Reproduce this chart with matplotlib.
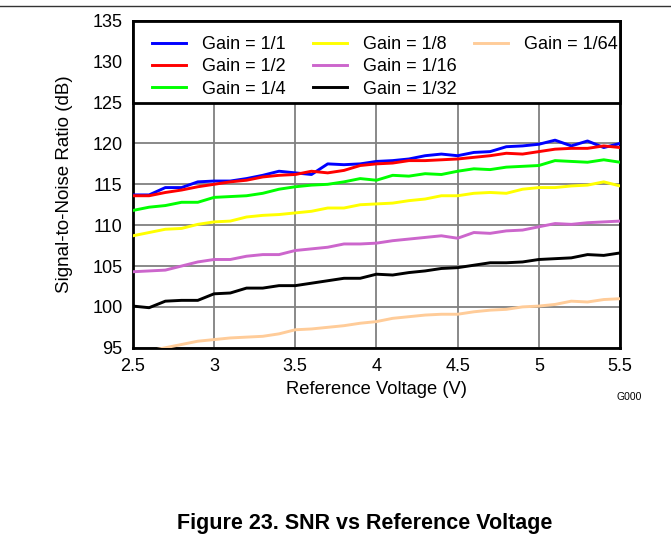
import numpy as np
import matplotlib.pyplot as plt
from matplotlib.legend import Legend
from matplotlib.lines import Line2D
from matplotlib.patches import Rectangle

plt.rcParams['font.family'] = ['Liberation Sans', 'DejaVu Sans']

# reference voltage (V), 0.1 V steps
vref = [2.5, 2.6, 2.7, 2.8, 2.9, 3.0, 3.1, 3.2, 3.3, 3.4, 3.5,
        3.6, 3.7, 3.8, 3.9, 4.0, 4.1, 4.2, 4.3, 4.4, 4.5,
        4.6, 4.7, 4.8, 4.9, 5.0, 5.1, 5.2, 5.3, 5.4, 5.5]

gain_1 = [113.7, 113.7, 114.6, 114.6, 115.3, 115.4, 115.4, 115.7, 116.1, 116.6, 116.4,
          116.2, 117.5, 117.4, 117.5, 117.8, 117.9, 118.1, 118.5, 118.7, 118.5,
          118.9, 119.0, 119.6, 119.7, 119.9, 120.4, 119.7, 120.3, 119.5, 120.0]
gain_2 = [113.6, 113.6, 114.0, 114.3, 114.7, 115.0, 115.3, 115.5, 115.9, 116.1, 116.2,
          116.6, 116.4, 116.7, 117.3, 117.5, 117.6, 117.9, 117.9, 118.0, 118.1,
          118.3, 118.5, 118.8, 118.7, 119.0, 119.3, 119.4, 119.4, 119.7, 119.5]
gain_4 = [111.8, 112.2, 112.4, 112.8, 112.8, 113.4, 113.5, 113.6, 113.9, 114.4, 114.7,
          114.9, 115.0, 115.3, 115.7, 115.5, 116.1, 116.0, 116.3, 116.2, 116.6,
          116.9, 116.8, 117.1, 117.2, 117.3, 117.9, 117.8, 117.7, 118.0, 117.7]
gain_8 = [108.7, 109.1, 109.5, 109.6, 110.1, 110.4, 110.5, 111.0, 111.2, 111.3, 111.5,
          111.7, 112.1, 112.1, 112.5, 112.6, 112.7, 113.0, 113.2, 113.6, 113.6,
          113.9, 114.0, 113.9, 114.4, 114.6, 114.6, 114.8, 114.9, 115.3, 114.8]
gain_16 = [104.3, 104.4, 104.5, 105.0, 105.5, 105.8, 105.8, 106.2, 106.4, 106.4, 106.9,
           107.1, 107.3, 107.7, 107.7, 107.8, 108.1, 108.3, 108.5, 108.7, 108.4,
           109.1, 109.0, 109.3, 109.4, 109.8, 110.2, 110.1, 110.3, 110.4, 110.5]
gain_32 = [100.1, 99.9, 100.7, 100.8, 100.8, 101.6, 101.7, 102.3, 102.3, 102.6, 102.6,
           102.9, 103.2, 103.5, 103.5, 104.0, 103.9, 104.2, 104.4, 104.7, 104.8,
           105.1, 105.4, 105.4, 105.5, 105.8, 105.9, 106.0, 106.4, 106.3, 106.6]
gain_64 = [94.2, 94.6, 95.0, 95.4, 95.8, 96.0, 96.2, 96.3, 96.4, 96.7, 97.2,
           97.3, 97.5, 97.7, 98.0, 98.2, 98.6, 98.8, 99.0, 99.1, 99.1,
           99.4, 99.6, 99.7, 100.0, 100.1, 100.3, 100.7, 100.6, 100.9, 101.0]

series = [
    ('Gain = 1/1', gain_1, '#0000ff'),
    ('Gain = 1/2', gain_2, '#ff0000'),
    ('Gain = 1/4', gain_4, '#00ff00'),
    ('Gain = 1/8', gain_8, '#ffff00'),
    ('Gain = 1/16', gain_16, '#cc66cc'),
    ('Gain = 1/32', gain_32, '#000000'),
    ('Gain = 1/64', gain_64, '#ffcc99'),
]

fig = plt.figure(figsize=(6.71, 5.35), dpi=100)
ax = fig.add_axes([0.198, 0.350, 0.726, 0.611])

handles = []
for name, vals, col in series:
    h, = ax.plot(vref, vals, color=col, lw=2.1, label=name, zorder=3)
    handles.append(h)

ax.set_xlim(2.5, 5.5)
ax.set_ylim(95, 135)
ax.set_xticks([2.5, 3, 3.5, 4, 4.5, 5, 5.5])
ax.set_xticklabels(['2.5', '3', '3.5', '4', '4.5', '5', '5.5'])
ax.set_yticks(np.arange(95, 136, 5))
ax.tick_params(length=0, labelsize=13)
ax.tick_params(axis='x', pad=7.7)
ax.tick_params(axis='y', pad=7.5)
ax.grid(True, color='#808080', lw=1.3)
for s in ax.spines.values():
    s.set_linewidth(2)

# white box behind the legend, covering the top of the grid
ax.add_patch(Rectangle((0, 0.75), 1, 0.25, transform=ax.transAxes,
                       facecolor='white', edgecolor='black', lw=2, zorder=4,
                       clip_on=False))

# one legend per column (3 / 3 / 1 entries)
col_x = [0.0205, 0.351, 0.682]
for i, x0 in enumerate(col_x):
    hs = handles[3 * i:3 * i + 3]
    leg = Legend(ax, hs, [h.get_label() for h in hs], loc='upper left',
                 bbox_to_anchor=(x0, 0.980), frameon=False, borderpad=0,
                 fontsize=13, handlelength=1.9, handletextpad=0.85,
                 labelspacing=0.28)
    leg.set_zorder(5)
    ax.add_artist(leg)

ax.set_xlabel('Reference Voltage (V)', fontsize=13.2, labelpad=4)
ax.set_ylabel('Signal-to-Noise Ratio (dB)', fontsize=13.5, labelpad=14)

fig.text(629 / 671, 1 - 397 / 535, 'G000', fontsize=7.5, ha='center', va='center')
fig.text(0.543, 1 - 529 / 535, 'Figure 23. SNR vs Reference Voltage',
         fontsize=15.5, fontweight='bold', ha='center', va='baseline')
fig.add_artist(Line2D([0, 1], [1 - 5.5 / 535, 1 - 5.5 / 535], color='#333333', lw=1))

fig.savefig('out.png', dpi=100)
